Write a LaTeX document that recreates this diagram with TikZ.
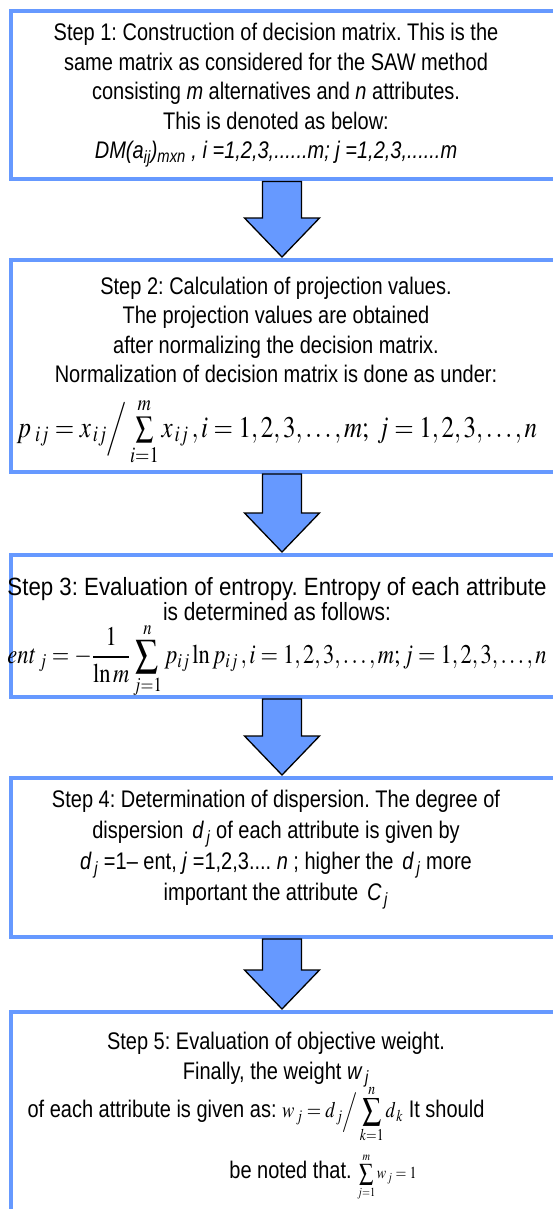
\documentclass[tikz,border=0pt]{standalone}
\usepackage{mathptmx}
\usepackage[no-math]{fontspec}
\setmainfont{Liberation Sans}
\usepackage{graphicx}
\usetikzlibrary{calc}
\definecolor{StepBlue}{RGB}{102,153,255}
\frenchspacing
% text in the source is stretched a little in height
\newcommand{\tall}[1]{\scalebox{1}[1.2]{\begin{tabular}{@{}c@{}}#1\end{tabular}}}
\newcommand{\sub}[1]{\textsubscript{\,\textit{#1}}}

\begin{document}
\begin{tikzpicture}[x=1pt,y=1pt,
  stepbox/.style={draw=StepBlue,line width=4pt,fill=white,minimum width=546pt,inner sep=0pt},
  steptext/.style={align=center,inner sep=0pt,font=\fontsize{20}{24.6}\selectfont},
  flowarrow/.style={draw=black,line width=1.3pt,fill=StepBlue,line join=miter}]
\useasboundingbox (0,0) rectangle (552,-1209);

% boxes
\node[stepbox,minimum height=168.5pt] (s1) at (284,-95.25) {};
\node[stepbox,minimum height=212pt] (s2) at (284,-366) {};
\node[stepbox,minimum height=142pt] (s3) at (284,-626) {};
\node[stepbox,minimum height=159pt] (s4) at (284,-857.5) {};
\node[stepbox,minimum height=208pt] (s5) at (284,-1116) {};

% block arrows between the steps
\foreach \a/\b in {s1/s2,s2/s3,s3/s4,s4/s5}
  \draw[flowarrow] let \p1=(\a.south), \p2=(\b.north) in
    (\x1-21.5pt,\y1) -- (\x1+17.5pt,\y1) -- (\x1+17.5pt,\y2+40pt) -- (\x1+35.5pt,\y2+40pt)
    -- (\x1-2pt,\y2+1pt) -- (\x1-39.5pt,\y2+40pt) -- (\x1-21.5pt,\y2+40pt) -- cycle;

% step 1
\node[steptext] (t1) at (276,-94) {\tall{Step 1: Construction of decision matrix. This is the\\
  same matrix as considered for the SAW method\\
  consisting \textit{m} alternatives and \textit{n} attributes.\\
  This is denoted as below:\\
  \textit{DM(a\textsubscript{ij})\textsubscript{mxn} , i =1,2,3,......m; j =1,2,3,......m}}};

% step 2
\node[steptext] (t2) at (276,-332.5) {\tall{Step 2: Calculation of projection values.\\
  The projection values are obtained\\
  after normalizing the decision matrix.\\
  Normalization of decision matrix is done as under:}};
\node[steptext,font=\fontsize{25}{30}\selectfont] (f2) at (277,-432)
  {\tall{$p_{\;ij}= x_{\,ij}\Big/\sum\limits_{i=1}^{m} x_{\,ij}\,, i = 1, 2, 3, \ldots, m;\; j = 1, 2, 3, \ldots, n$}};

% step 3
\node[steptext,font=\fontsize{20.8}{20.8}\selectfont] (t3) at (277,-602.5) {\tall{\scalebox{1.07}[1]{Step 3: Evaluation of entropy. Entropy of each attribute}\\
  is determined as follows:}};
\node[steptext,font=\fontsize{22.5}{26}\selectfont] (f3) at (277,-661)
  {\tall{$\mathit{ent}_{\;j}=-\displaystyle\frac{1}{\ln m}\sum_{j=1}^{n}p_{ij}\ln p_{ij}\,,i=1,2,3,\ldots,m; j=1,2,3,\ldots,n$}};

% step 4
\node[steptext,font=\fontsize{20}{25.8}\selectfont] (t4) at (276,-848) {\tall{Step 4: Determination of dispersion. The degree of\\
  dispersion\, \textit{d}\sub{j} of each attribute is given by\\
  \textit{d}\sub{j} =1-- ent, \textit{j} =1,2,3.... \textit{n} ; higher the\, \textit{d}\sub{j} more\\
  important the attribute\, \textit{C}\sub{j}}};

% step 5
\node[steptext,font=\fontsize{20}{25}\selectfont] (t5) at (276,-1058) {\tall{Step 5: Evaluation of objective weight.\\
  Finally, the weight \textit{w}\sub{j}}};
\node[steptext] (u5) at (256,-1114) {\tall{of each attribute is given as:
  {\fontsize{18.5}{20}\selectfont$w_{\,j}=d_{\,j}\Big/\displaystyle\sum_{k=1}^{n}d_{\,k}$} It should}};
\node[steptext] (v5) at (323,-1177) {\tall{be noted that.
  {\fontsize{14}{16}\selectfont$\displaystyle\sum_{j=1}^{m}w_{\,j}=1$}}};
\end{tikzpicture}
\end{document}
